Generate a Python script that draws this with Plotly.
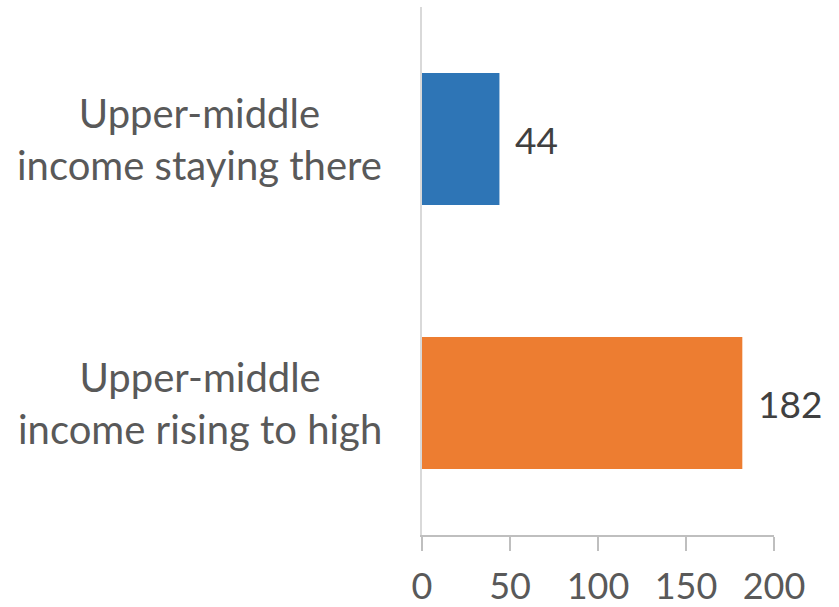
import plotly.graph_objects as go

categories = ["Upper-middle<br>income staying there", "Upper-middle<br>income rising to high"]
values = [44, 182]
bar_colors = ["#2E75B6", "#ED7D31"]
tick_vals = [0, 50, 100, 150, 200]
tick_text = ["0", "50", "100", "150", "200"]

FONT = "Lato"
LABEL_GRAY = "#595959"

fig = go.Figure(
    go.Bar(
        x=values,
        y=categories,
        orientation="h",
        width=0.5,
        marker=dict(color=bar_colors, line=dict(width=0)),
        hoverinfo="skip",
    )
)

# value labels just past the end of each bar
for cat, val in zip(categories, values):
    fig.add_annotation(
        x=val, y=cat, xref="x", yref="y",
        text=str(val), showarrow=False,
        xanchor="left", yanchor="middle", xshift=14,
        font=dict(family=FONT, size=37, color="#404040"),
    )

# category labels, centred multi-line text left of the axis
for cat in categories:
    fig.add_annotation(
        x=0, y=cat, xref="paper", yref="y",
        text=cat, showarrow=False, align="center",
        xanchor="right", yanchor="middle", xshift=-38,
        font=dict(family=FONT, size=40, color=LABEL_GRAY),
    )

fig.update_layout(
    width=839, height=607,
    margin=dict(l=422, r=65, t=7, b=72),
    paper_bgcolor="white", plot_bgcolor="white",
    showlegend=False,
    bargap=0.5,
    font=dict(family=FONT, color=LABEL_GRAY),
)
fig.update_xaxes(
    range=[0, 200], tickvals=tick_vals, ticktext=tick_text,
    showgrid=False, zeroline=False, automargin=False,
    showline=True, linecolor="#BFBFBF", linewidth=1.5,
    ticks="outside", ticklen=14, tickcolor="#BFBFBF", tickwidth=1.5,
    tickfont=dict(family=FONT, size=36, color=LABEL_GRAY),
    ticklabelstandoff=5, fixedrange=True,
)
fig.update_yaxes(
    categoryorder="array", categoryarray=categories, autorange="reversed",
    showticklabels=False, showgrid=False, zeroline=False, automargin=False,
    showline=True, linecolor="#D9D9D9", linewidth=1.5,
    ticks="", fixedrange=True,
)

fig.write_html("out.html")
